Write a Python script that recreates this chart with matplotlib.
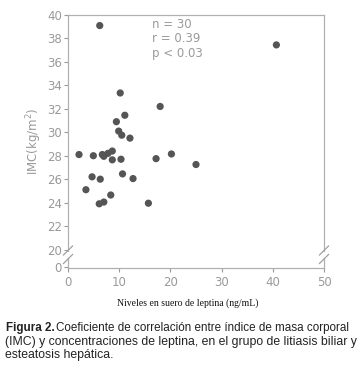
import numpy as np
import matplotlib
matplotlib.use("Agg")
import matplotlib.pyplot as plt
from matplotlib.patches import Rectangle

# Data (leptin ng/mL, IMC kg/m2)
leptina = [6.2, 40.7, 10.2, 18.0, 11.1, 9.45, 9.9, 10.5, 12.1, 2.15, 4.95, 6.7, 7.0, 7.8,
           8.65, 8.65, 10.35, 17.2, 20.2, 25.0, 4.7, 6.3, 10.65, 12.7, 3.5, 8.35, 6.1, 7.0, 15.7]
imc = [39.1, 37.45, 33.35, 32.2, 31.45, 30.9, 30.1, 29.75, 29.5, 28.1, 28.0, 28.1, 27.95, 28.2,
       28.4, 27.65, 27.7, 27.75, 28.15, 27.25, 26.2, 26.0, 26.45, 26.05, 25.1, 24.65, 23.9, 24.05, 23.95]
xticks = [0, 10, 20, 30, 40, 50]
yticks = [0, 20, 22, 24, 26, 28, 30, 32, 34, 36, 38, 40]
stats_text = ["n = 30", "r = 0.39", "p < 0.03"]

W, H = 362, 369
fig = plt.figure(figsize=(W / 100, H / 100), dpi=100)
L, R, T, B = 68, 324, 15, 268
ax = fig.add_axes([L / W, 1 - B / H, (R - L) / W, (B - T) / H])

def fwd(y):
    y = np.asarray(y, dtype=float)
    return np.where(y >= 20, y, 18.5 + y * 0.075)

def inv(v):
    v = np.asarray(v, dtype=float)
    return np.where(v >= 20, v, (v - 18.5) / 0.075)

ax.set_yscale("function", functions=(fwd, inv))
ax.set_xlim(0, 50)
ax.set_ylim(-1.0, 40)

gray = "#9a9a9a"
ax.scatter(leptina, imc, s=27, color="#555555", edgecolors="none", zorder=3)

ax.set_xticks(xticks)
ax.set_yticks(yticks)
ax.set_xticklabels([str(v) for v in xticks])
ax.set_yticklabels([str(v) for v in yticks])
ax.minorticks_off()
ax.tick_params(axis="both", direction="out", length=3, width=0.8, color=gray,
               labelcolor=gray, labelsize=8.5, pad=1.5)
ax.tick_params(axis="x", pad=3)
for s in ax.spines.values():
    s.set_color("#b0b0b0")
    s.set_linewidth(0.9)

ax.set_ylabel("IMC(kg/m$^2$)", color=gray, fontsize=8.5, labelpad=2)

for i, t in enumerate(stats_text):
    fig.text(152 / W, 1 - (25 + 14 * i) / H, t, color=gray, fontsize=8.5,
             ha="left", va="center")

# axis breaks (left and right)
ah = B - T
aw = R - L
for xa in (0.0, 1.0):
    yc1 = (B - 250.5) / ah
    yc2 = (B - 259.0) / ah
    gap = Rectangle((xa - 0.01, yc2 + 0.004), 0.02, yc1 - yc2 - 0.008, transform=ax.transAxes,
                    facecolor="white", edgecolor="none", clip_on=False, zorder=4)
    ax.add_patch(gap)
    for yc in (yc1, yc2):
        dx = 4.5 / aw
        dy = 4.5 / ah
        ax.plot([xa - dx, xa + dx], [yc - dy, yc + dy], transform=ax.transAxes,
                color="#a0a0a0", lw=0.9, clip_on=False, zorder=5)

fig.text(188 / W, 1 - 303 / H, "Niveles en suero de leptina (ng/mL)", family="Liberation Serif",
         fontsize=7, color="#111111", ha="center", va="center")

# caption, first line fitted to end near the right edge
fs1 = 8.4
cap_kw = dict(family="Liberation Sans", color="#222222", va="center")
t1 = fig.text(6 / W, 1 - 328 / H, "Figura 2.", fontweight="bold", ha="left", fontsize=fs1, **cap_kw)
fig.canvas.draw()
bb = t1.get_window_extent()
t1b = fig.text((bb.x1 + 1.5) / W, 1 - 328 / H,
               "Coeficiente de correlación entre índice de masa corporal",
               ha="left", fontsize=fs1, **cap_kw)
fig.canvas.draw()
end = t1b.get_window_extent().x1
if end > 357:
    fs1 = fs1 * (357 - 6) / (end - 6)
    t1.set_fontsize(fs1)
    t1b.set_fontsize(fs1)
    fig.canvas.draw()
    bb = t1.get_window_extent()
    t1b.set_x((bb.x1 + 1.5) / W)
fig.text(5 / W, 1 - 342 / H, "(IMC) y concentraciones de leptina, en el grupo de litiasis biliar y",
         ha="left", fontsize=8.8, **cap_kw)
fig.text(5 / W, 1 - 355 / H, "esteatosis hepática.", ha="left", fontsize=8.8, **cap_kw)

fig.savefig("out.png", dpi=100)
